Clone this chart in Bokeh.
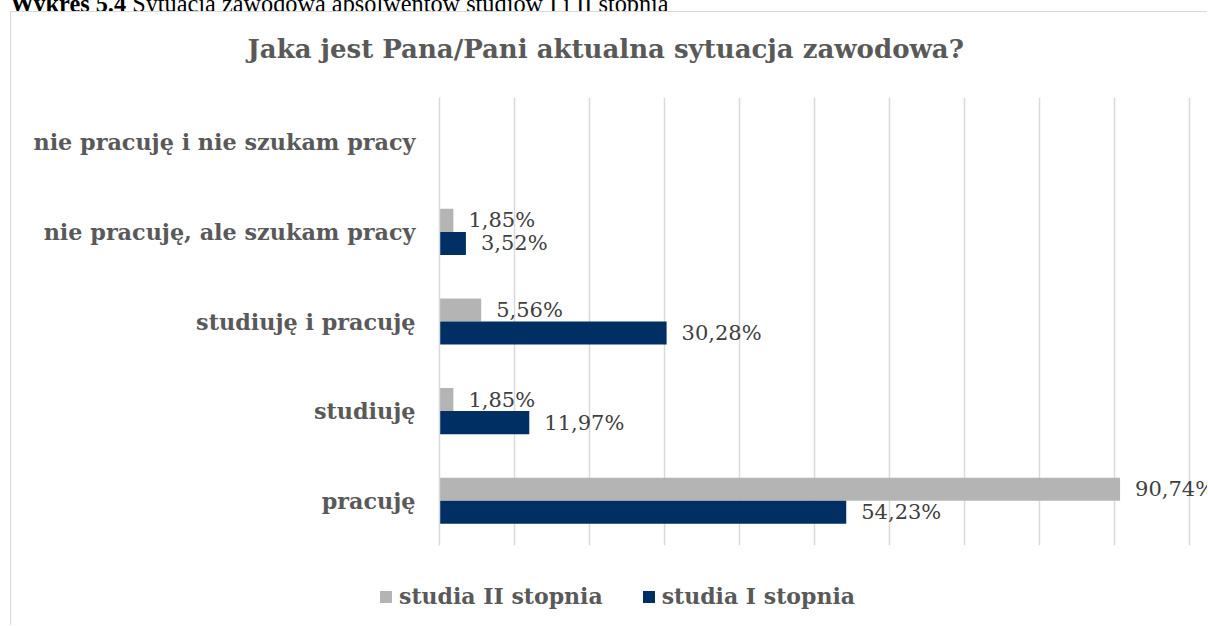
from bokeh.plotting import figure
from bokeh.models import (FactorRange, Range1d, SingleIntervalTicker,
                          ColumnDataSource, Div, Title)
from bokeh.layouts import column
from bokeh.transform import dodge
from bokeh.core.properties import value
from bokeh.embed import file_html
from bokeh.resources import INLINE

# ---- data ----
categories = ["pracuję", "studiuję", "studiuję i pracuję",
              "nie pracuję, ale szukam pracy", "nie pracuję i nie szukam pracy"]
studia_II = [90.74, 1.85, 5.56, 1.85, 0.0]
studia_I = [54.23, 11.97, 30.28, 3.52, 0.0]
series_names = ["studia II stopnia", "studia I stopnia"]
title_text = "Jaka jest Pana/Pani aktualna sytuacja zawodowa?"
caption_bold = "Wykres 5.4"
caption_text = "Sytuacja zawodowa absolwentów studiów I i II stopnia"


def fmt(v):
    return (f"{v:.2f}".replace(".", ",") + "%") if v > 0 else ""


src = ColumnDataSource(dict(
    cat=categories, ii=studia_II, i=studia_I,
    ii_lbl=[fmt(v) for v in studia_II], i_lbl=[fmt(v) for v in studia_I]))

FONT = "DejaVu Serif"
GRAY_TXT = "#595959"
C_II = "#b4b4b4"
C_I = "#002f63"
GRID = "#d9d9d9"
BORDER = "1px solid #d9d9d9"

# caption above the chart box (cut off at the page top, as in the reference)
cap = Div(text=(f'<div style="margin-top:-13px;margin-left:10px;'
                f'font-family:\'Liberation Serif\';font-size:24.3px;line-height:24px;'
                f'white-space:nowrap;color:#000">'
                f'<b>{caption_bold}</b> {caption_text}</div>'),
          width=1208, height=11, margin=0, styles={"overflow": "hidden"})

# ---- main chart ----
p = figure(width=1197, height=558,
           y_range=FactorRange(factors=categories, range_padding=0),
           x_range=Range1d(0, 102.53), x_axis_location=None,
           output_backend="svg", toolbar_location=None,
           min_border_left=428, min_border_right=0,
           min_border_top=85, min_border_bottom=25)
p.margin = (0, 0, 0, 10)
p.styles = {"border-left": BORDER, "border-top": BORDER}
p.outline_line_color = None
p.background_fill_color = "white"
p.border_fill_color = "white"

# spacer between the title and the plot area
p.add_layout(Title(text=" ", text_font_size="2px", standoff=25), "above")

p.title.text = title_text
p.title.align = "left"
p.title.offset = -192
p.title.standoff = 10
p.title.text_font = FONT
p.title.text_font_style = "bold"
p.title.text_font_size = "26px"
p.title.text_color = GRAY_TXT

p.xgrid.ticker = SingleIntervalTicker(interval=10)
p.xgrid.grid_line_color = GRID
p.xgrid.grid_line_width = 1.5
p.ygrid.grid_line_color = None

ya = p.yaxis[0]
ya.axis_line_color = GRID
ya.axis_line_width = 1.5
ya.major_tick_line_color = None
ya.minor_tick_line_color = None
ya.major_tick_out = 0
ya.major_tick_in = 0
ya.major_label_standoff = 24
ya.major_label_text_font = FONT
ya.major_label_text_font_style = "bold"
ya.major_label_text_font_size = "22.3px"
ya.major_label_text_color = GRAY_TXT

off = 0.1285
bh = 0.257
p.hbar(y=dodge("cat", off, range=p.y_range), left=0, right="ii", height=bh,
       fill_color=C_II, line_color=None, source=src)
p.hbar(y=dodge("cat", -off, range=p.y_range), left=0, right="i", height=bh,
       fill_color=C_I, line_color=None, source=src)

lbl_kw = dict(x_offset=15, text_align="left", text_baseline="middle",
              text_font=value(FONT), text_font_size="21px", text_color="#404040",
              source=src)
p.text(x="ii", y=dodge("cat", off, range=p.y_range), text="ii_lbl", **lbl_kw)
p.text(x="i", y=dodge("cat", -off, range=p.y_range), text="i_lbl", **lbl_kw)

# ---- legend strip (continuation of the chart box) ----
def legend_item(color, label, gap_after):
    return (f'<span style="display:inline-block;width:12px;height:12px;'
            f'background:{color};margin-right:7px;"></span>'
            f'<span style="margin-right:{gap_after}px;">{label}</span>')


legend_html = (
    f'<div style="display:flex;align-items:center;height:56px;padding-left:369px;'
    f'font-family:\'{FONT}\';font-weight:bold;font-size:22px;color:{GRAY_TXT};'
    f'white-space:nowrap;">'
    + legend_item(C_II, series_names[0], 40)
    + legend_item(C_I, series_names[1], 0)
    + '</div>')
leg = Div(text=legend_html, width=1197, height=56, margin=(0, 0, 0, 10),
          styles={"border-left": BORDER})

layout = column(cap, p, leg, spacing=0)
open("out.html", "w").write(file_html(layout, INLINE))
